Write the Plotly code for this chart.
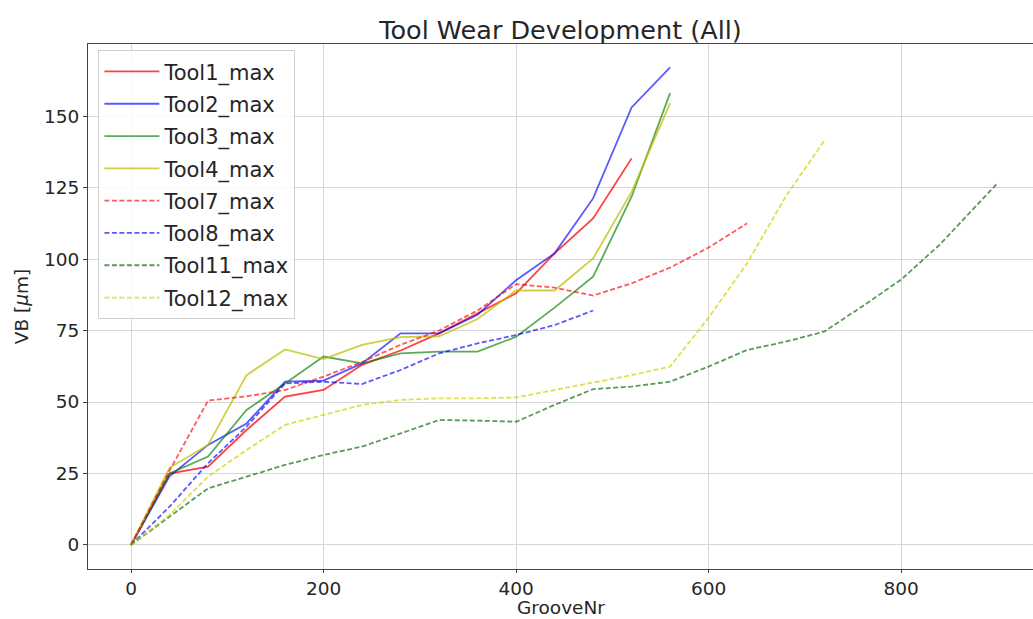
import plotly.graph_objects as go

groove_a = [0, 40, 80, 120, 160, 200, 240, 280, 320, 360, 400, 440, 480, 520]
groove_b = [0, 40, 80, 120, 160, 200, 240, 280, 320, 360, 400, 440, 480, 520, 560]
groove_7 = [0, 40, 80, 120, 160, 200, 240, 280, 320, 360, 400, 440, 480, 520, 560, 600, 640]
groove_8 = [0, 40, 80, 120, 160, 200, 240, 280, 320, 360, 400, 440, 480]
groove_11 = [0, 40, 80, 120, 160, 200, 240, 280, 320, 360, 400, 440, 480, 520, 560, 600,
             640, 680, 720, 760, 800, 840, 900]
groove_12 = [0, 40, 80, 120, 160, 200, 240, 280, 320, 360, 400, 440, 480, 520, 560, 600,
             640, 680, 720]

tool1 = [0, 25, 27.4, 40.2, 51.9, 54.2, 63, 68, 74, 81, 88, 102, 114.2, 135.2]
tool2 = [0, 24, 35, 42.5, 57.1, 57.5, 63.5, 74, 74, 80.5, 92.6, 102, 121.2, 153, 167]
tool3 = [0, 25, 30.9, 47.2, 56.5, 65.9, 63.5, 67, 67.6, 67.6, 72.8, 83, 93.8, 121.8, 158]
tool4 = [0, 27, 35, 59.4, 68.4, 65, 70, 72.7, 73, 79, 89, 89, 100.2, 123.5, 154.5]
tool7 = [0, 26, 50.5, 52, 54.2, 58.9, 64, 70, 75, 82, 91.2, 90, 87.2, 91.5, 97, 104, 112.5]
tool8 = [0, 13.4, 28.6, 41.4, 56.5, 57.1, 56.3, 61.2, 67, 70.5, 73.4, 76.9, 82]
tool11 = [0, 10, 19.8, 23.9, 28, 31.5, 34.4, 39, 43.7, 43.5, 43.1, 49, 54.5, 55.4, 57.1, 62.4,
          68.2, 71.1, 74.6, 83.5, 92.8, 105, 126.5]
tool12 = [0, 10.5, 23.9, 33.2, 42, 45.5, 49, 50.7, 51.3, 51.3, 51.6, 54.2, 56.9, 59.4, 62.4,
          79.5, 98.5, 121.8, 141.3]

series = [
    ("Tool1_max", groove_a, tool1, "rgba(255,0,0,0.75)", "solid"),
    ("Tool2_max", groove_b, tool2, "rgba(0,0,255,0.65)", "solid"),
    ("Tool3_max", groove_b, tool3, "rgba(0,128,0,0.65)", "solid"),
    ("Tool4_max", groove_b, tool4, "rgba(191,191,0,0.75)", "solid"),
    ("Tool7_max", groove_7, tool7, "rgba(255,0,0,0.65)", "5px,2.5px"),
    ("Tool8_max", groove_8, tool8, "rgba(0,0,255,0.65)", "5px,2.5px"),
    ("Tool11_max", groove_11, tool11, "rgba(0,100,0,0.65)", "5px,2.5px"),
    ("Tool12_max", groove_12, tool12, "rgba(210,210,0,0.7)", "5px,2.5px"),
]

fig = go.Figure()
for i, (name, xs, ys, color, dash) in enumerate(series):
    fig.add_trace(go.Scatter(
        x=xs, y=ys, mode="lines", name=name, legendgroup=f"g{i}",
        line=dict(color=color, width=1.8, dash=dash),
    ))

axis_font = dict(family="DejaVu Sans", size=18.5, color="#262626")
title_font = dict(family="DejaVu Sans", size=18.5, color="#262626")

fig.update_layout(
    width=1033, height=619,
    margin=dict(l=88, r=0, t=44, b=50),
    paper_bgcolor="white", plot_bgcolor="white",
    font=dict(family="DejaVu Sans", color="#262626"),
    title=dict(text="Tool Wear Development (All)", x=(88 + 1033) / 2 / 1033, xanchor="center",
               y=1 - 30 / 619, yanchor="middle",
               font=dict(family="DejaVu Sans", size=25.5, color="#262626")),
    legend=dict(x=0.011, y=0.988, xanchor="left", yanchor="top",
                bgcolor="rgba(255,255,255,0.85)", bordercolor="#d0d0d0", borderwidth=1,
                font=dict(family="DejaVu Sans", size=21, color="#262626"),
                itemwidth=55, tracegroupgap=2),
    showlegend=True,
    annotations=[dict(text="GrooveNr", xref="paper", yref="paper", x=0.5, y=(569 - 619) / 525,
                      xanchor="center", yanchor="bottom", showarrow=False, font=title_font,
                      borderpad=0)],
)

fig.update_xaxes(
    range=[-44.7, 937], tickvals=[0, 200, 400, 600, 800], ticktext=["0", "200", "400", "600", "800"],
    showgrid=True, gridcolor="#d5d5d5", gridwidth=1, zeroline=False,
    showline=True, linecolor="#444444", linewidth=1, mirror=True,
    ticks="outside", ticklen=3, tickcolor="#444444", tickfont=axis_font,
)
fig.update_yaxes(
    range=[-8.4, 175.2], tickvals=[0, 25, 50, 75, 100, 125, 150],
    showgrid=True, gridcolor="#d5d5d5", gridwidth=1, zeroline=False,
    showline=True, linecolor="#444444", linewidth=1, mirror=False,
    ticks="outside", ticklen=4, tickcolor="#444444", tickfont=axis_font,
    title=dict(text="VB [<i>μ</i>m]", font=title_font, standoff=10),
)

fig.write_html("out.html")
